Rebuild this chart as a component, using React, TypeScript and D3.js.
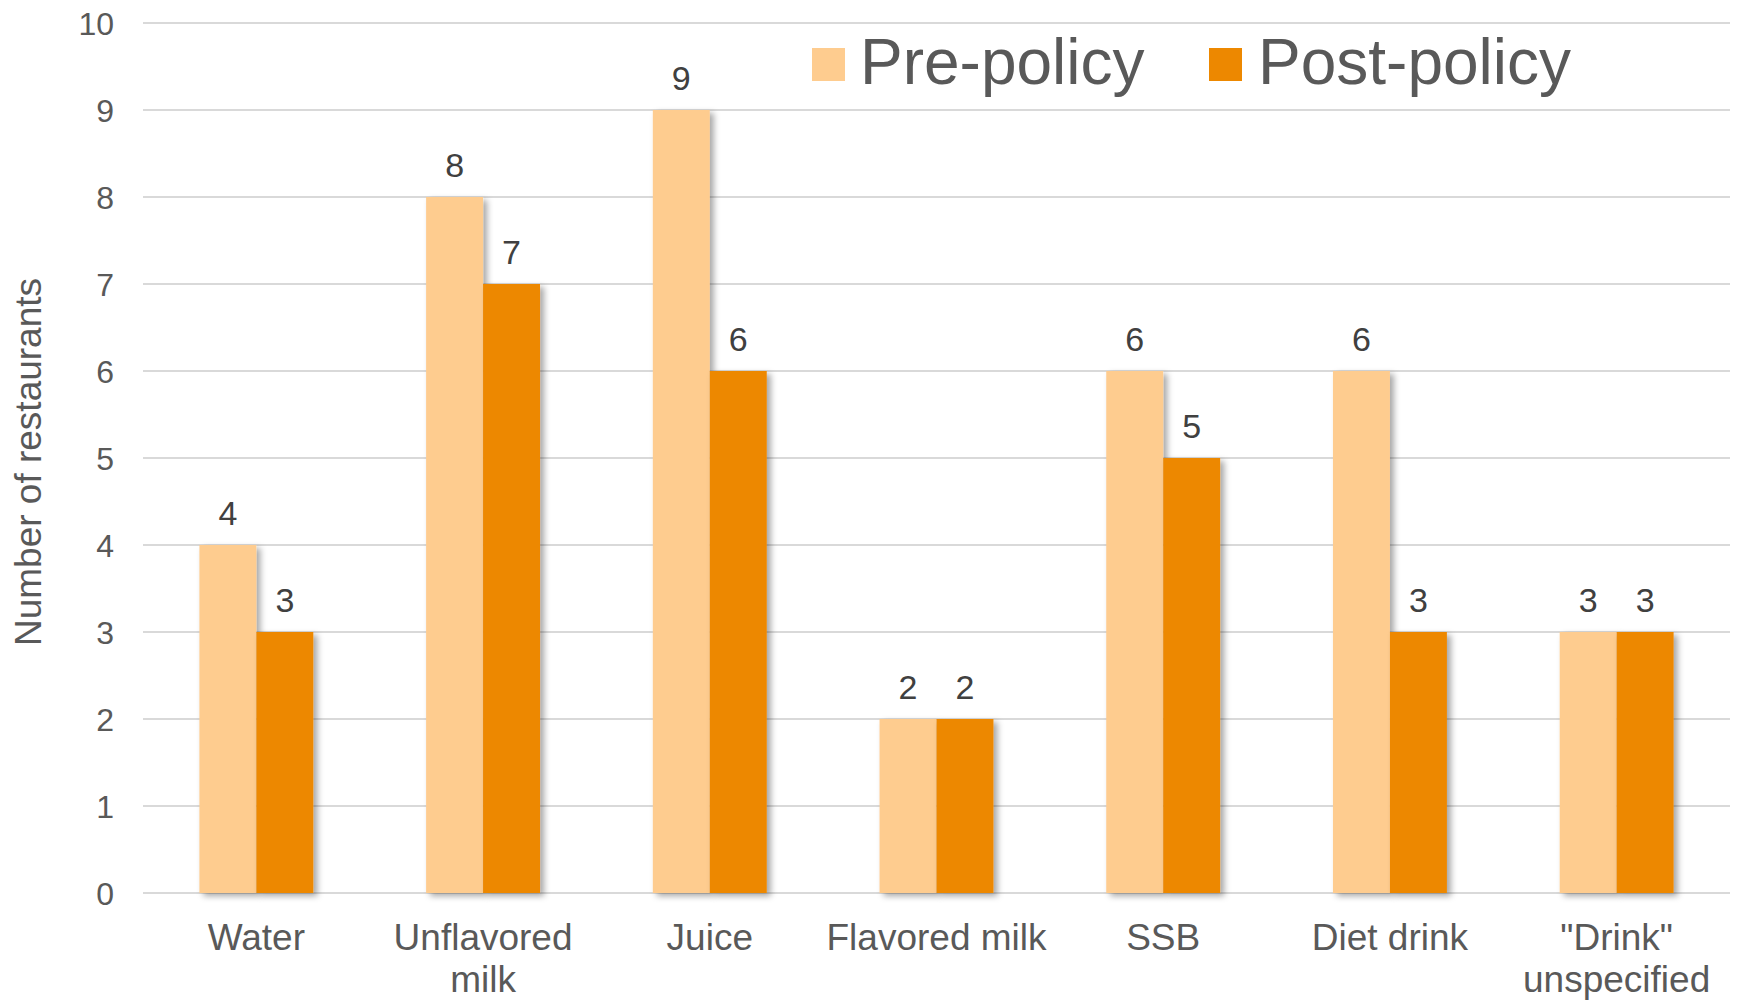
import React from "react";
import * as d3 from "d3";

const categories: string[][] = [
  ["Water"],
  ["Unflavored", "milk"],
  ["Juice"],
  ["Flavored milk"],
  ["SSB"],
  ["Diet drink"],
  ["\"Drink\"", "unspecified"],
];
const seriesNames = ["Pre-policy", "Post-policy"];
const prePolicy = [4, 8, 9, 2, 6, 6, 3];
const postPolicy = [3, 7, 6, 2, 5, 3, 3];
const yTicks = [0, 1, 2, 3, 4, 5, 6, 7, 8, 9, 10];
const colors = ["#FECC8F", "#ED8800"];

const W = 1739;
const H = 1000;
const plotLeft = 143;
const plotRight = 1730;
const plotTop = 23;
const plotBottom = 893;
const font = "'Liberation Sans', Arial, sans-serif";

export default function App() {
  const keys = categories.map((c) => c.join(" "));
  const x = d3.scaleBand<string>().domain(keys).range([plotLeft, plotRight]).padding(0);
  const xs = d3
    .scaleBand<string>()
    .domain(seriesNames)
    .range([0, x.bandwidth()])
    .paddingInner(0)
    .paddingOuter(0.99);
  const y = d3.scaleLinear().domain([0, 10]).range([plotBottom, plotTop]);
  const series = [prePolicy, postPolicy];

  return (
    <svg
      width={W}
      height={H}
      style={{ position: "absolute", left: 0, top: 0, background: "#fff" }}
    >
      <defs>
        <filter id="shadow" x="-20%" y="-5%" width="150%" height="115%">
          <feDropShadow dx="4" dy="3" stdDeviation="3" floodColor="#000" floodOpacity="0.35" />
        </filter>
      </defs>
      <rect x={0} y={0} width={W} height={H} fill="#fff" />
      {yTicks.map((t) => (
        <g key={t}>
          <line
            x1={plotLeft}
            x2={plotRight}
            y1={y(t)}
            y2={y(t)}
            stroke="#D9D9D9"
            strokeWidth={2}
          />
          <text
            x={114}
            y={y(t)}
            dy="0.36em"
            textAnchor="end"
            fontFamily={font}
            fontSize={32}
            fill="#595959"
          >
            {t}
          </text>
        </g>
      ))}
      <text
        transform={`translate(41, 462) rotate(-90)`}
        textAnchor="middle"
        fontFamily={font}
        fontSize={37}
        fill="#595959"
      >
        Number of restaurants
      </text>
      {series.map((vals, si) =>
        vals.map((v, i) => {
          const bx = (x(keys[i]) ?? 0) + (xs(seriesNames[si]) ?? 0);
          return (
            <rect
              key={`${si}-${i}`}
              x={bx}
              y={y(v)}
              width={xs.bandwidth()}
              height={y(0) - y(v)}
              fill={colors[si]}
              filter="url(#shadow)"
            />
          );
        })
      )}
      {series.map((vals, si) =>
        vals.map((v, i) => {
          const bx = (x(keys[i]) ?? 0) + (xs(seriesNames[si]) ?? 0) + xs.bandwidth() / 2;
          return (
            <text
              key={`l-${si}-${i}`}
              x={bx}
              y={y(v) - 20}
              textAnchor="middle"
              fontFamily={font}
              fontSize={34}
              fill="#404040"
            >
              {v}
            </text>
          );
        })
      )}
      {categories.map((lines, i) => (
        <text
          key={`c-${i}`}
          textAnchor="middle"
          fontFamily={font}
          fontSize={37}
          fill="#595959"
        >
          {lines.map((ln, li) => (
            <tspan key={li} x={(x(keys[i]) ?? 0) + x.bandwidth() / 2} y={950 + li * 42}>
              {ln}
            </tspan>
          ))}
        </text>
      ))}
      {/* legend */}
      <rect x={812} y={48} width={33} height={33} fill={colors[0]} />
      <text x={860} y={84} fontFamily={font} fontSize={64} fill="#595959">
        {seriesNames[0]}
      </text>
      <rect x={1209} y={48} width={33} height={33} fill={colors[1]} />
      <text x={1258} y={84} fontFamily={font} fontSize={64} fill="#595959">
        {seriesNames[1]}
      </text>
    </svg>
  );
}
